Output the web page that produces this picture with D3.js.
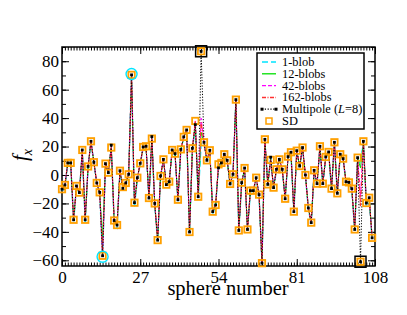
<!DOCTYPE html>
<html>
<head>
<meta charset="utf-8">
<script src="https://cdn.jsdelivr.net/npm/d3@7"></script>
<style>
  body { margin: 0; background: #fff; }
</style>
</head>
<body>
<div id="chart"></div>
<script>
// f_x per sphere, six methods

const sd = [-10,-7,8.5,8.5,-31.5,-7.7,-12.4,17.6,-31.5,6,23.7,9,-5.6,-12.2,-56.8,8,1.6,19.3,-32,-35.2,
  3,-8.5,-5.6,0.5,70.4,-19.5,-1.9,8.2,19.7,20.2,-16.2,25.6,-20,-45.8,-0.7,11,-6.8,-4.7,17.6,15,
  -17.4,18,26.8,31.7,-40.1,18.8,38,-15.3,87,23,10.3,17.4,-25.8,-21.1,7.5,8.5,14.6,10.3,-6.3,0.5,
  53,-39,-5.4,4.9,-38.3,-11,-11,-1.9,-13.8,-62,25.1,-6.6,10.6,-8.9,4,11,4,-16.7,12.9,16,
  -25.8,17.1,6.3,19.3,0,-23.2,-33.5,3.3,-6.1,20.2,-6.1,12.7,16.2,-9.6,23,-12.9,14.6,11.5,-4.7,-5.2,
  -9.6,-38.3,12.2,-61,23.7,-19.7,-16,-44.2];

const multipole = [-10,-7,8.5,8.5,-31.5,-7.7,-12.4,17.6,-31.5,6,23.7,9,-5.6,-12.2,-56.8,8,1.6,21,-32,-35.2,
  3,-9.4,-5.6,0.5,70.4,-19.5,-1.9,8.2,19.7,20.2,-16.2,27,-20,-45.8,-0.7,11,-6.8,-4.7,17.6,15,
  -17.4,18,26.8,31.7,-40.1,18.8,35.4,-15.3,87,23,10.3,17.4,-25.8,-21.1,5,8.5,14.6,10.3,-6.3,0.5,
  53,-39,-5.4,4.9,-38.3,-11,-11,-1.9,-13.8,-62,25.1,-6.6,12.5,-8.9,4,11,4,-16.7,12.9,16,
  -25.8,17.1,6.3,19.3,0,-23.2,-33.5,3.3,-6.1,20.2,-6.1,12.7,16.2,-9.6,23,-12.9,14.6,11.5,-4.7,-5.2,
  -9.6,-38.3,12.2,-61,23.7,-19.7,-16,-44.2];

const blob1 = [-11,-8,8,8,-33,-8.5,-13,17,-33,5,23,8.5,-6,-13,-57.5,7.5,1,19,-34,-37,
  2.5,-9,-6,0,71,-23,-2.5,7.5,19,19.5,-17,25,-21,-47,-1.5,10.5,-7.5,-5.5,17,14.5,
  -18.5,17.5,26,31,-41,18,34,-16,22,22,9.5,17,-27,-22,6,8,14,9.5,-7,0,
  52.5,-40,-6,4.5,-39,-12,-12,-2.5,-15,-62,24.5,-7.5,12,-9.5,3.5,10.5,3.5,-17.5,12.5,15.5,
  -27,16.5,5.5,19,-1,-24,-34.5,3,-7,19.5,-7,12,15.5,-10.5,22.5,-14,14,11,-5.5,-6,
  -10.5,-39,11.5,8,23,-21,-17,-45];

const blob12 = [-10.5,-7.5,8.3,8.3,-32,-8,-12.7,17.3,-32,5.5,23.5,8.8,-5.8,-12.5,-45,7.8,1.3,19.2,-32.5,-35.5,
  2.8,-8.8,-5.8,0.3,68,-20,-2.2,8,19.5,20,-16.5,25.4,-20.5,-46,-1,10.8,-7,-5,17.4,14.8,
  -17.8,17.8,26.5,31.5,-40.5,18.5,37,-15.8,30,22.8,10,17.2,-26.2,-21.5,7,8.3,14.4,10,-6.6,0.3,
  52.8,-39.4,-5.7,4.7,-38.6,-11.4,-11.4,-2.2,-14.2,-62,24.9,-6.9,11,-9.1,3.8,10.8,3.8,-17,12.7,15.8,
  -26.2,16.9,6,19.2,-0.3,-23.5,-33.8,3.1,-6.4,20,-6.4,12.5,16,-9.9,22.8,-13.2,14.4,11.3,-5,-5.5,
  -9.9,-38.6,12,5,23.5,-20,-16.3,-44.5];

const blob42 = [-10,-7,8.5,8.5,-31.5,-7.7,-12.4,17.6,-31.5,6,23.7,9,-5.6,-12.2,-56.5,8,1.6,19.3,-32,-35.2,
  3,-8.5,-5.6,0.5,70,-19.5,-1.9,8.2,19.7,20.2,-16.2,25.6,-20,-45.8,-0.7,11,-6.8,-4.7,17.6,15,
  -17.4,18,26.8,31.7,-40.1,18.8,38,-15.3,40,23,10.3,17.4,-25.8,-21.1,7.5,8.5,14.6,10.3,-6.3,0.5,
  53,-39,-5.4,4.9,-38.3,-11,-11,-1.9,-13.8,-62,25.1,-6.6,10.6,-8.9,4,11,4,-16.7,12.9,16,
  -25.8,17.1,6.3,19.3,0,-23.2,-33.5,3.3,-6.1,20.2,-6.1,12.7,16.2,-9.6,23,-12.9,14.6,11.5,-4.7,-5.2,
  -9.6,-38.3,12.2,-15,23.7,-19.7,-16,-44.2];

const blob162 = [-10,-7,8.5,8.5,-31.5,-7.7,-12.4,17.6,-31.5,6,23.7,9,-5.6,-12.2,-56.8,8,1.6,19.3,-32,-35.2,
  3,-8.5,-5.6,0.5,70.4,-19.5,-1.9,8.2,19.7,20.2,-16.2,25.6,-20,-45.8,-0.7,11,-6.8,-4.7,17.6,15,
  -17.4,18,26.8,31.7,-40.1,18.8,38,-15.3,37,23,10.3,17.4,-25.8,-21.1,7.5,8.5,14.6,10.3,-6.3,0.5,
  53,-39,-5.4,4.9,-38.3,-11,-11,-1.9,-13.8,-62,25.1,-6.6,10.6,-8.9,4,11,4,-16.7,12.9,16,
  -25.8,17.1,6.3,19.3,0,-23.2,-33.5,3.3,-6.1,20.2,-6.1,12.7,16.2,-9.6,23,-12.9,14.6,11.5,-4.7,-5.2,
  -9.6,-38.3,12.2,-22,23.7,-19.7,-16,-44.2];

const circled = [14, 24];   // highlighted with cyan rings
const boxed = [48, 103];    // highlighted with black boxes

const xTicks = [0, 27, 54, 81, 108];
const yTicks = [-60, -40, -20, 0, 20, 40, 60, 80];
const labels = ["1-blob", "12-blobs", "42-blobs", "162-blobs", "Multipole", "SD"];

const serif = "Liberation Serif";
const width = 407, height = 315,
      margin = ({top: 47, right: 32, bottom: 49, left: 62});

let svg = d3.select("#chart")
    .append("svg")
    .attr("width", width)
    .attr("height", height)
    .attr("font-family", serif);

let x = d3.scaleLinear()
    .domain([0, 108])
    .range([margin.left, width - margin.right]);

let y = d3.scaleLinear()
    .domain([-64, 90])
    .range([height - margin.bottom, margin.top]);

const idx = sd.map((d, i) => i);

// minor + major ticks on all four sides, pointing inward
const minorX = d3.range(0, 109, 1), minorY = d3.range(-60, 91, 10);

const styleAxis = g => {
    g.attr("font-family", serif).attr("font-size", 17);
    g.select(".domain").remove();
    g.selectAll("line").attr("stroke", "#000").attr("stroke-width", 1);
    g.selectAll("text").attr("fill", "#000");
};

svg.append("g")
    .attr("transform", `translate(0,${y.range()[0]})`)
    .call(d3.axisBottom(x).tickValues(minorX).tickSize(-3.5).tickFormat(""))
    .call(styleAxis);
svg.append("g")
    .attr("transform", `translate(0,${y.range()[0]})`)
    .call(d3.axisBottom(x).tickValues(xTicks).tickSize(-7).tickPadding(5))
    .call(styleAxis);
svg.append("g")
    .attr("transform", `translate(0,${y.range()[1]})`)
    .call(d3.axisTop(x).tickValues(minorX).tickSize(-3.5).tickFormat(""))
    .call(styleAxis);
svg.append("g")
    .attr("transform", `translate(0,${y.range()[1]})`)
    .call(d3.axisTop(x).tickValues(xTicks).tickSize(-7).tickFormat(""))
    .call(styleAxis);

svg.append("g")
    .attr("transform", `translate(${x.range()[0]},0)`)
    .call(d3.axisLeft(y).tickValues(minorY).tickSize(-4).tickFormat(""))
    .call(styleAxis);
svg.append("g")
    .attr("transform", `translate(${x.range()[0]},0)`)
    .call(d3.axisLeft(y).tickValues(yTicks).tickSize(-7).tickPadding(3))
    .call(styleAxis);
svg.append("g")
    .attr("transform", `translate(${x.range()[1]},0)`)
    .call(d3.axisRight(y).tickValues(minorY).tickSize(-4).tickFormat(""))
    .call(styleAxis);
svg.append("g")
    .attr("transform", `translate(${x.range()[1]},0)`)
    .call(d3.axisRight(y).tickValues(yTicks).tickSize(-7).tickFormat(""))
    .call(styleAxis);

svg.append("rect")
    .attr("x", x.range()[0]).attr("y", y.range()[1])
    .attr("width", x.range()[1] - x.range()[0])
    .attr("height", y.range()[0] - y.range()[1])
    .attr("fill", "none").attr("stroke", "#000").attr("stroke-width", 1.5);

// series lines
const series = [
    {values: blob1, color: "#00e5ff", dash: "6,3", w: 1.4},
    {values: blob12, color: "#00e000", dash: null, w: 1},
    {values: blob42, color: "#ff00ff", dash: "4,2", w: 1},
    {values: blob162, color: "#ff3030", dash: "4,1.5,1,1.5", w: 1.2},
    {values: multipole, color: "#000", dash: "1.2,1.6", w: 1}
];

const line = vals => d3.line().x(i => x(i)).y(i => y(vals[i]))(idx);

svg.append("g").selectAll("path")
    .data(series)
    .join("path")
    .attr("d", s => line(s.values))
    .attr("fill", "none")
    .attr("stroke", s => s.color)
    .attr("stroke-width", s => s.w)
    .attr("stroke-dasharray", s => s.dash);

// SD markers
svg.append("g").selectAll("rect")
    .data(idx)
    .join("rect")
    .attr("x", i => x(i) - 3.2).attr("y", i => y(sd[i]) - 3.2)
    .attr("width", 6.4).attr("height", 6.4)
    .attr("fill", "none").attr("stroke", "#ffa000").attr("stroke-width", 1.8);

// multipole dots
svg.append("g").selectAll("rect")
    .data(idx)
    .join("rect")
    .attr("x", i => x(i) - 1.4).attr("y", i => y(multipole[i]) - 1.4)
    .attr("width", 2.8).attr("height", 2.8)
    .attr("fill", "#000");

// highlights
svg.append("g").selectAll("circle")
    .data(circled)
    .join("circle")
    .attr("cx", i => x(i)).attr("cy", i => y(blob1[i]))
    .attr("r", 5.5)
    .attr("fill", "none").attr("stroke", "#00e5ff").attr("stroke-width", 1.4);

svg.append("g").selectAll("rect")
    .data(boxed)
    .join("rect")
    .attr("x", i => x(i) - 5.5).attr("y", i => y(multipole[i]) - 5.5)
    .attr("width", 11).attr("height", 11)
    .attr("fill", "none").attr("stroke", "#000").attr("stroke-width", 1.5);

// axis labels
svg.append("text")
    .attr("x", 228).attr("y", 295)
    .attr("text-anchor", "middle")
    .attr("font-size", 20.5)
    .text("sphere number");

let yl = svg.append("text")
    .attr("transform", "translate(27,155) rotate(-90)")
    .attr("text-anchor", "middle")
    .attr("font-size", 21);
yl.append("tspan").attr("font-style", "italic").text("f");
yl.append("tspan").attr("font-style", "italic").attr("font-size", 14).attr("dy", 5).text("x");

// legend
const lg = svg.append("g")
    .attr("transform", "translate(257,53)")
    .attr("font-family", serif)
    .attr("font-size", 12.4);
lg.append("rect")
    .attr("width", 107).attr("height", 76)
    .attr("fill", "#fff").attr("stroke", "#000").attr("stroke-width", 1.5);

const rowY = d3.scalePoint().domain(d3.range(6)).range([9, 68]);

lg.selectAll("line")
    .data(series)
    .join("line")
    .attr("x1", 5).attr("x2", 19)
    .attr("y1", (s, i) => rowY(i)).attr("y2", (s, i) => rowY(i))
    .attr("stroke", s => s.color)
    .attr("stroke-width", s => s.w + 0.3)
    .attr("stroke-dasharray", s => s.dash);

lg.append("g").selectAll("rect")
    .data([5, 19])
    .join("rect")
    .attr("x", d => d - 1.5).attr("y", rowY(4) - 1.5)
    .attr("width", 3).attr("height", 3).attr("fill", "#000");

lg.append("rect")
    .attr("x", 9).attr("y", rowY(5) - 3)
    .attr("width", 6).attr("height", 6)
    .attr("fill", "none").attr("stroke", "#ffa000").attr("stroke-width", 1.5);

let lt = lg.selectAll("text")
    .data(labels)
    .join("text")
    .attr("x", 25)
    .attr("y", (d, i) => rowY(i) + 4)
    .text(d => d);

let mp = lt.filter((d, i) => i === 4);
mp.append("tspan").text(" (");
mp.append("tspan").attr("font-style", "italic").text("L");
mp.append("tspan").text("=8)");
</script>
</body>
</html>
